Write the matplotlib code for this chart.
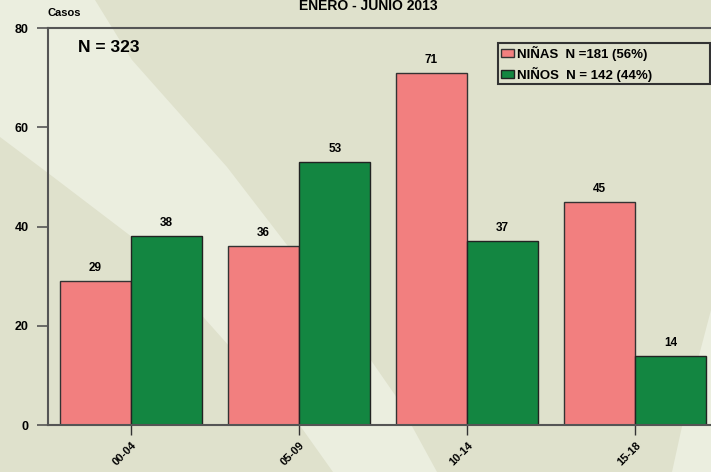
import matplotlib
matplotlib.use("Agg")
import matplotlib.pyplot as plt
from matplotlib.patches import Polygon, Rectangle
from matplotlib.transforms import ScaledTranslation
import numpy as np

plt.rcParams['font.family'] = ['Liberation Sans', 'DejaVu Sans']
plt.rcParams['font.weight'] = 'bold'

grupos = ['00-04', '05-09', '10-14', '15-18']
ninas = [29, 36, 71, 45]
ninos = [38, 53, 37, 14]
etiquetas = ['NIÑAS  N =181 (56%)', 'NIÑOS  N = 142 (44%)']
titulo = 'ENERO - JUNIO 2013'

col_ninas = '#f27f7f'
col_ninos = '#138641'
bg_dark = '#dfe1cc'
bg_light = '#ebeedf'
W, H = 711, 472

fig = plt.figure(figsize=(W / 100, H / 100), dpi=100)

# background with light diagonal streaks (pixel coords)
bg = fig.add_axes([0, 0, 1, 1])
bg.set_xlim(0, W)
bg.set_ylim(H, 0)
bg.axis('off')
bg.add_patch(Rectangle((0, 0), W, H, color=bg_dark))
banda1 = [(0, 0), (95, 0), (132, 60), (227, 167), (287, 245), (350, 330),
          (395, 395), (437, 472), (333, 472), (301, 427), (230, 347),
          (132, 237), (48, 173), (0, 137)]
bg.add_patch(Polygon(banda1, closed=True, color=bg_light, lw=0))
banda2 = [(711, 310), (711, 472), (672, 472), (690, 390)]
bg.add_patch(Polygon(banda2, closed=True, color=bg_light, lw=0))

left, bottom = 48 / W, 1 - 425 / H
ax = fig.add_axes([left, bottom, 1 - left, (425 - 28) / H])
ax.set_facecolor('none')

x = np.arange(len(grupos))
w = 0.425
b1 = ax.bar(x - w / 2, ninas, w, color=col_ninas, edgecolor='#333333', lw=1, label=etiquetas[0])
b2 = ax.bar(x + w / 2, ninos, w, color=col_ninos, edgecolor='#222222', lw=1, label=etiquetas[1])

for bars in (b1, b2):
    for r in bars:
        ax.annotate(str(int(r.get_height())), (r.get_x() + r.get_width() / 2, r.get_height()),
                    xytext=(0, 5), textcoords='offset points', ha='center', va='bottom',
                    fontsize=8.5, fontweight='bold')

ax.set_xlim(-0.494, 3.452)
ax.set_ylim(0, 80)
ax.set_yticks([0, 20, 40, 60, 80])
ax.set_xticks(x)
ax.set_xticklabels(grupos, rotation=45, rotation_mode='anchor', ha='right', va='center')

for s in ['left', 'top', 'bottom']:
    ax.spines[s].set_color('#555555')
    ax.spines[s].set_linewidth(1.5)
ax.spines['right'].set_visible(False)
ax.tick_params(axis='y', length=8, width=1.2, color='#555555', labelsize=9, pad=6)
ax.tick_params(axis='x', length=7.5, width=1, color='#333333', labelsize=8, pad=6)
shift = ScaledTranslation(4 / 100, 0, fig.dpi_scale_trans)
for t in ax.get_xticklabels():
    t.set_transform(t.get_transform() + shift)
for t in ax.get_yticklabels() + ax.get_xticklabels():
    t.set_fontweight('bold')

ax.text(0, 1.025, 'Casos', transform=ax.transAxes, fontsize=8, fontweight='bold', va='bottom')
ax.text(0.045, 0.95, 'N = 323', transform=ax.transAxes, fontsize=12.5, fontweight='bold', va='center')
fig.text(368 / W, 1 - 10 / H, titulo, ha='center', va='baseline', fontsize=10, fontweight='bold')

# legend frame drawn by hand, wider than the entries
ax.add_patch(Rectangle((0.679, 0.859), 0.3195, 0.103, transform=ax.transAxes, fill=False,
                       edgecolor='#333333', lw=1.5, clip_on=False))
ax.legend(loc='upper left', bbox_to_anchor=(0.683, 0.955), frameon=False,
          prop={'weight': 'bold', 'size': 9.5}, handlelength=1.0, handleheight=0.6,
          handletextpad=0.25, borderpad=0, borderaxespad=0, labelspacing=0.45)

fig.savefig('out.png', dpi=100)
